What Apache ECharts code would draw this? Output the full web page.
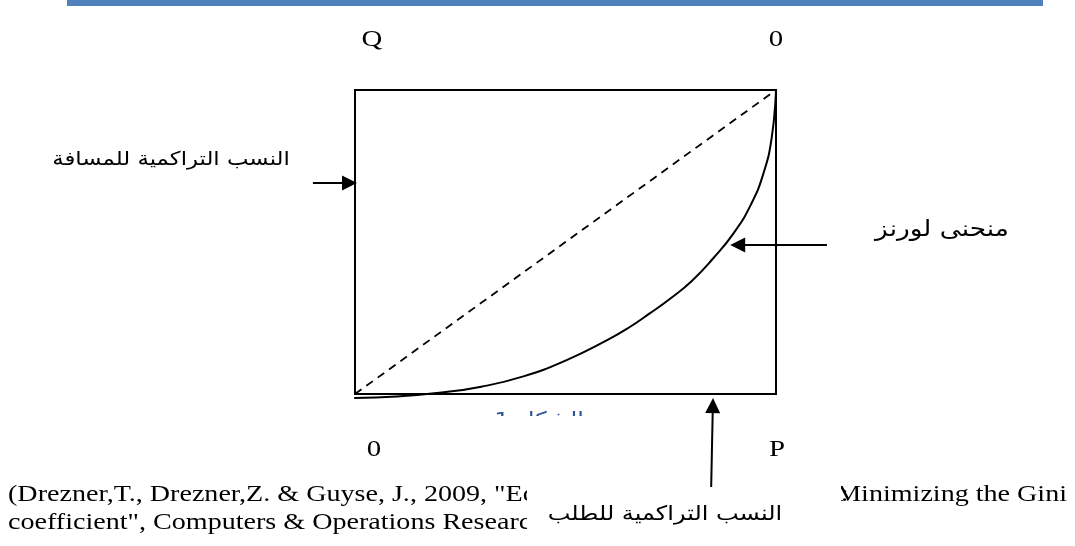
<!DOCTYPE html>
<html>
<head>
<meta charset="utf-8">
<script src="https://cdn.jsdelivr.net/npm/echarts@6/dist/echarts.min.js"></script>
<style>html,body{margin:0;padding:0;background:#fff}#c{width:1075px;height:546px}</style>
</head>
<body>
<div id="c"></div>
<script>
// Lorenz curve (cumulative share)
const lorenzX = [-0.002, 0.1, 0.2, 0.3, 0.4, 0.5, 0.6, 0.65, 0.7, 0.75, 0.8, 0.85, 0.9, 0.94, 0.97, 0.99, 1.0];
const lorenzY = [-0.013, -0.008, 0.004, 0.024, 0.058, 0.11, 0.178, 0.218, 0.265, 0.315, 0.372, 0.445, 0.53, 0.622, 0.725, 0.845, 1.0];
// line of equality
const equalityX = [0, 1];
const equalityY = [0, 1];
// annotation arrows [fromX, fromY, toX, toY] in data units
const arrowDistance = [-0.100, 0.694, -0.013, 0.694];
const arrowLorenz = [1.121, 0.490, 0.909, 0.490];
const arrowDemand = [0.846, -0.306, 0.850, -0.038];
// texts
const cornerLabels = ['Q', '0', '0', 'P'];
const labelDistance = 'النسب التراكمية للمسافة';
const labelLorenz = 'منحنى لورنز';
const labelDemand = 'النسب التراكمية للطلب';
const captionText = 'الشكل 1';
const citeLine1Left = '(Drezner,T., Drezner,Z. & Guyse, J., 2009, "Equitable service by a facility:';
const citeLine1Right = 'Minimizing the Gini';
const citeLine2 = 'coefficient", Computers & Operations Research, 36(12), 3240-3246)';

const chart = echarts.init(document.getElementById('c'), null, {renderer: 'canvas'});
const serif = '"Liberation Serif", "Times New Roman", serif';
const arab = '"DejaVu Sans", "Liberation Sans", sans-serif';
const SX = 1.2;

function txt(text, x, y, size, family, opts) {
  opts = opts || {};
  return {
    type: 'text', x: x, y: y, z: opts.z !== undefined ? opts.z : 10,
    scaleX: opts.sx || SX, scaleY: 1,
    style: {
      text: text, font: size + 'px ' + family, fill: opts.fill || '#000',
      align: opts.align || 'center', verticalAlign: 'middle'
    }
  };
}

chart.setOption({
  animation: false,
  backgroundColor: '#fff',
  grid: {left: 355, top: 90, width: 421, height: 304, show: true, borderColor: '#000', borderWidth: 2, backgroundColor: 'transparent'},
  xAxis: {type: 'value', min: 0, max: 1, show: false, splitLine: {show: false}},
  yAxis: {type: 'value', min: 0, max: 1, show: false, splitLine: {show: false}},
  series: [
    {
      type: 'line', data: equalityX.map((x, i) => [x, equalityY[i]]),
      showSymbol: false, clip: false, z: 2,
      lineStyle: {color: '#000', width: 1.8, type: [8, 6]}
    },
    {
      type: 'line', data: lorenzX.map((x, i) => [x, lorenzY[i]]),
      showSymbol: false, clip: false, smooth: 0.5, z: 2,
      lineStyle: {color: '#000', width: 2}
    },
    {
      type: 'lines', coordinateSystem: 'cartesian2d', clip: false, z: 2,
      symbol: ['none', 'triangle'], symbolSize: [12, 15],
      lineStyle: {color: '#000', width: 2, opacity: 1},
      itemStyle: {color: '#000'},
      data: [arrowDistance, arrowLorenz, arrowDemand].map(a => ({coords: [[a[0], a[1]], [a[2], a[3]]]}))
    }
  ],
  graphic: [
    {type: 'rect', shape: {x: 67, y: 0, width: 976, height: 6}, style: {fill: '#4f81bd'}, z: 5},
    txt(cornerLabels[0], 372, 40, 24, serif),
    txt(cornerLabels[1], 776, 40, 24, serif),
    txt(cornerLabels[2], 374, 450, 24, serif),
    txt(cornerLabels[3], 777, 450, 24, serif),
    txt(labelDistance, 171, 160, 19, arab),
    txt(labelLorenz, 942, 230, 22, arab),
    txt(captionText, 539, 421, 20, arab, {fill: '#2e5597', z: 8}),
    {type: 'rect', shape: {x: 470, y: 416, width: 140, height: 18}, style: {fill: '#fff'}, z: 9},
    txt(citeLine1Left, 8, 495, 24, serif, {align: 'left', z: 0, sx: 1.17}),
    txt(citeLine1Right, 1067, 495, 24, serif, {align: 'right', z: 0, sx: 1.17}),
    txt(citeLine2, 8, 523, 24, serif, {align: 'left', z: 0, sx: 1.17}),
    {type: 'rect', shape: {x: 527, y: 476, width: 314, height: 64}, style: {fill: '#fff'}, z: 1},
    txt(labelDemand, 665, 515, 20, arab, {z: 30})
  ]
});
</script>
</body>
</html>
